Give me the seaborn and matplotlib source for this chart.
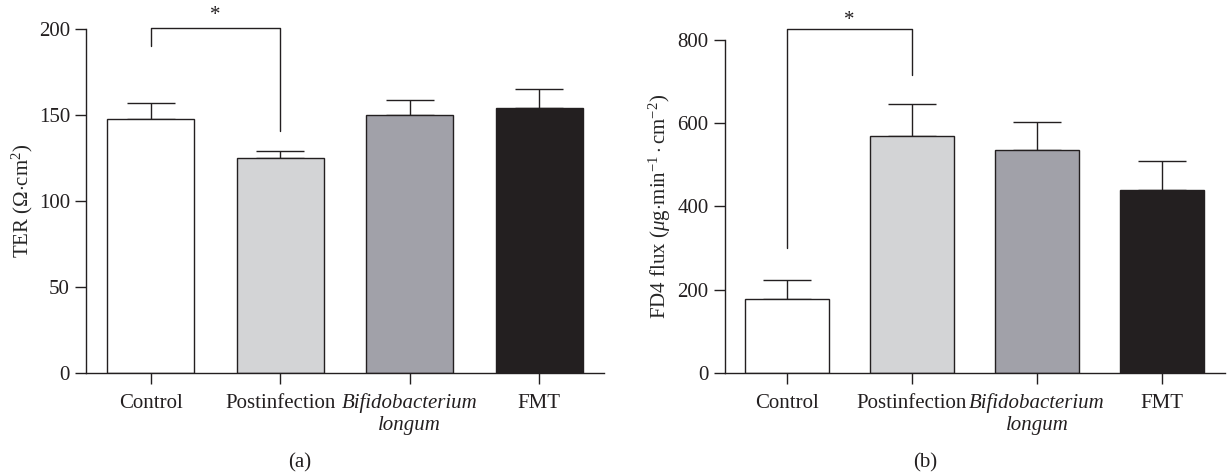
import numpy as np
import pandas as pd
import matplotlib
matplotlib.use("Agg")
import matplotlib.pyplot as plt
import seaborn as sns

groups = ["Control", "Postinfection", "Bifidobacterium\nlongum", "FMT"]
bar_colors = ["#ffffff", "#d3d4d6", "#a1a1a9", "#231f20"]

ter_mean = [148, 125, 150, 154]
ter_err = [9, 4, 9, 11]
ter_ticks = [0, 50, 100, 150, 200]

fd4_mean = [178, 568, 536, 439]
fd4_err = [46, 79, 66, 70]
fd4_ticks = [0, 200, 400, 600, 800]

# significance brackets: (left x, right x, left drop, right drop, top)
ter_sig = (0, 1, 190, 141, 200.5)
fd4_sig = (0, 1, 299, 716, 827)

sns.set_style("ticks")
ink = "#231f20"
fs = 15
plt.rcParams["font.family"] = ["Liberation Serif", "DejaVu Serif"]
plt.rcParams["mathtext.fontset"] = "custom"
plt.rcParams["mathtext.rm"] = "Liberation Serif"
plt.rcParams["mathtext.it"] = "Liberation Serif:italic"
plt.rcParams["axes.edgecolor"] = ink
plt.rcParams["axes.linewidth"] = 1.0
plt.rcParams["xtick.color"] = ink
plt.rcParams["ytick.color"] = ink
plt.rcParams["text.color"] = ink

fig = plt.figure(figsize=(12.27, 4.76), dpi=100)
ax1 = fig.add_axes([0.0701, 0.217, 0.4222, 0.7214])
ax2 = fig.add_axes([0.5905, 0.217, 0.4075, 0.699])


def draw_panel(ax, means, errs, ticks, sig, ylabel, star_y):
    df = pd.DataFrame({"group": groups, "value": means})
    sns.barplot(data=df, x="group", y="value", hue="group", palette=bar_colors,
                legend=False, width=0.67, edgecolor=ink, linewidth=1.0,
                saturation=1, ax=ax, zorder=2)
    ax.errorbar(np.arange(len(groups)), means, yerr=[[0] * len(errs), errs],
                fmt="none", ecolor=ink, elinewidth=1.0, capsize=17,
                capthick=1.0, zorder=1)
    ax.set_xlim(-0.5, 3.5)
    ax.set_ylim(ticks[0], ticks[-1])
    ax.set_yticks(ticks)
    ax.set_xlabel("")
    ax.set_ylabel(ylabel, fontsize=fs, labelpad=3)
    ax.tick_params(axis="both", labelsize=fs, length=8, width=1.0, direction="out")
    ax.tick_params(axis="x", pad=7)
    labels = ax.get_xticklabels()
    labels[2].set_fontstyle("italic")
    sns.despine(ax=ax)

    x0, x1, d0, d1, top = sig
    ax.plot([x0, x0, x1, x1], [d0, top, top, d1], color=ink, lw=1.0, clip_on=False)
    ax.text((x0 + x1) / 2, star_y, "*", ha="center", va="center", fontsize=fs,
            clip_on=False)


draw_panel(ax1, ter_mean, ter_err, ter_ticks, ter_sig,
           r"TER ($\Omega{\cdot}$cm$^{2}$)", 208)
draw_panel(ax2, fd4_mean, fd4_err, fd4_ticks, fd4_sig,
           r"FD4 flux ($\mathit{\mu}$g$\cdot$min$^{-1}\cdot$cm$^{-2}$)", 848)

fig.text(0.2445, 0.027, "(a)", ha="center", va="center", fontsize=fs)
fig.text(0.754, 0.027, "(b)", ha="center", va="center", fontsize=fs)

fig.savefig("out.png", dpi=100)
